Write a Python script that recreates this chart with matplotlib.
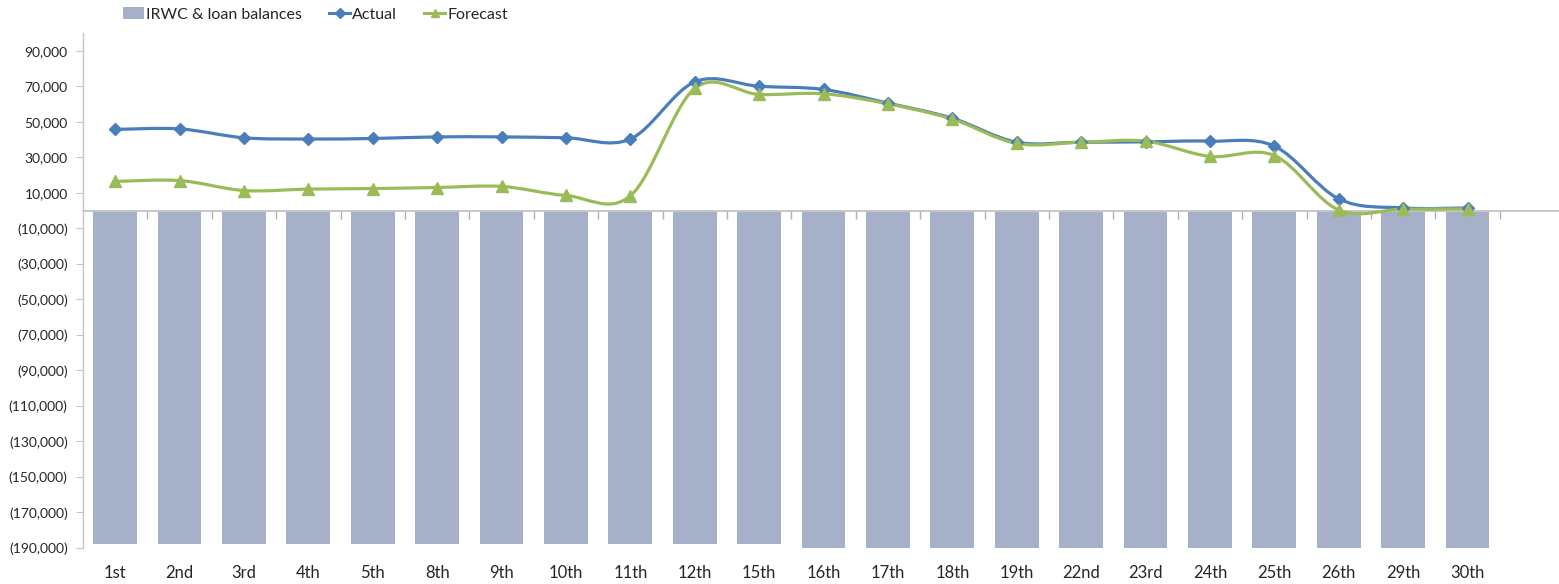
import matplotlib
matplotlib.use("Agg")
import matplotlib.pyplot as plt
from matplotlib.path import Path
from matplotlib.patches import PathPatch
from matplotlib.ticker import FuncFormatter, FixedLocator
import numpy as np

plt.rcParams['font.family'] = ['Lato', 'DejaVu Sans']

# data
days = ['1st', '2nd', '3rd', '4th', '5th', '8th', '9th', '10th', '11th', '12th', '15th',
        '16th', '17th', '18th', '19th', '22nd', '23rd', '24th', '25th', '26th', '29th', '30th']
balances = [-187750] * 11 + [-190000] * 11
actual = [45700, 46000, 41000, 40300, 40600, 41500, 41500, 41000, 40300, 72500, 70000,
          68200, 60500, 52000, 38500, 38500, 38700, 39100, 36300, 6600, 1500, 1500]
forecast = [16400, 16900, 11300, 12100, 12400, 13000, 13600, 8500, 8300, 68800, 65400,
            65800, 60100, 51500, 37800, 38500, 39100, 30500, 31000, 300, 800, 1000]

BAR_C = '#A6B0C8'
ACT_C = '#4A7EBB'
FC_C = '#9BBB59'
TXT_C = '#262626'
AX_C = '#C4C4C4'


def smooth_path(xs, ys):
    # excel style smoothed line: cubic bezier through each point
    pts = np.column_stack([xs, ys]).astype(float)
    n = len(pts)
    verts = [pts[0]]
    codes = [Path.MOVETO]
    for i in range(n - 1):
        p0 = pts[max(i - 1, 0)]
        p1 = pts[i]
        p2 = pts[i + 1]
        p3 = pts[min(i + 2, n - 1)]
        c1 = p1 + (p2 - p0) / 6.0
        c2 = p2 - (p3 - p1) / 6.0
        verts += [c1, c2, p2]
        codes += [Path.CURVE4] * 3
    return Path(verts, codes)


fig = plt.figure(figsize=(15.59, 5.84), dpi=100)
ax = fig.add_axes([83 / 1559, 1 - 548 / 584, 1 - 83 / 1559, (548 - 33) / 584])

x = np.arange(len(days))
bars = ax.bar(x, balances, width=0.68, color=BAR_C, zorder=1, label='IRWC & loan balances')

handles = [bars]
for vals, col, mk, ms, name in [(actual, ACT_C, 'D', 6.5, 'Actual'),
                                (forecast, FC_C, '^', 8, 'Forecast')]:
    ax.add_patch(PathPatch(smooth_path(x, vals), facecolor='none', edgecolor=col,
                           lw=2.3, zorder=3, capstyle='round', joinstyle='round'))
    ax.plot(x, vals, linestyle='none', marker=mk, ms=ms, color=col, zorder=4)
    # legend proxy
    h, = ax.plot([], [], color=col, lw=2.2, marker=mk, ms=ms * 0.75, label=name)
    handles.append(h)

ax.set_xlim(-0.5, 22.42)
ax.set_ylim(-190000, 100000)

# axis styling
for s in ['top', 'right']:
    ax.spines[s].set_visible(False)
ax.spines['left'].set_color(AX_C)
ax.spines['left'].set_linewidth(1.0)
ax.spines['bottom'].set_position(('data', 0))
ax.spines['bottom'].set_color(AX_C)
ax.spines['bottom'].set_linewidth(1.3)
ax.spines['bottom'].set_zorder(2)

ax.yaxis.set_major_locator(FixedLocator(np.arange(-190000, 100001, 20000)))
ax.yaxis.set_major_formatter(FuncFormatter(
    lambda v, p: f"{v:,.0f}" if v >= 0 else f"({-v:,.0f})"))
ax.tick_params(axis='y', length=5, color=AX_C, labelsize=10, labelcolor=TXT_C, pad=6)

# category boundary ticks hang under the zero line
ax.set_xticks(x + 0.5)
ax.set_xticklabels([])
ax.tick_params(axis='x', length=6, width=1.0, color='#B0B0B0', direction='out')

sec = ax.secondary_xaxis('bottom')
sec.set_xticks(x)
sec.set_xticklabels(days)
sec.spines['bottom'].set_visible(False)
sec.tick_params(length=0, labelsize=12, labelcolor=TXT_C, pad=12)

fig.legend(handles=handles, labels=['IRWC & loan balances', 'Actual', 'Forecast'],
           loc='upper left', bbox_to_anchor=(123 / 1559, 1 - 7 / 584), ncol=3,
           frameon=False, fontsize=11.5, handlelength=1.3, handleheight=0.8,
           handletextpad=0.15, columnspacing=1.7, borderpad=0, borderaxespad=0,
           labelcolor=TXT_C)

fig.savefig('out.png', dpi=100)
plt.close(fig)
